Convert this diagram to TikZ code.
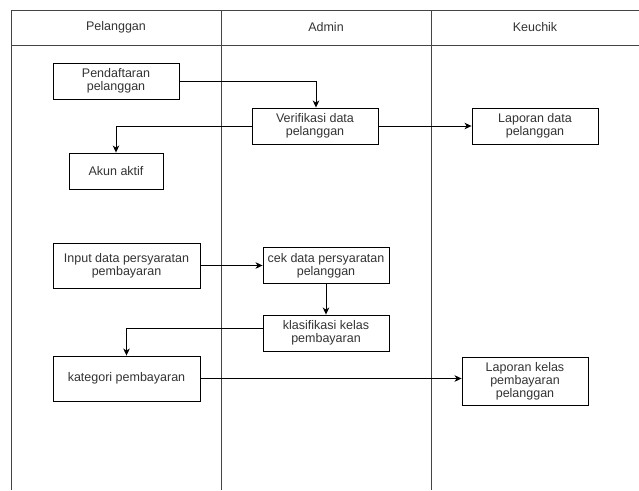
\documentclass[tikz,border=0pt]{standalone}
\usepackage{fontspec}
\setmainfont{Liberation Sans}
\usetikzlibrary{arrows.meta}
\definecolor{txt}{HTML}{333333}
\definecolor{lane}{HTML}{444444}
\begin{document}
\begin{tikzpicture}[x=1pt,y=-1pt,
  every node/.style={font=\fontsize{12.5}{13}\selectfont, text=txt},
  box/.style={draw=black, line width=0.9pt, align=center, inner sep=1pt, minimum width=126pt, minimum height=36pt},
  lanehead/.style={align=center},
  laneline/.style={draw=lane, line width=0.9pt},
  flow/.style={draw=black, line width=0.9pt, -{Stealth[length=7pt,width=6.5pt,inset=2pt]}}]
\useasboundingbox (0,0) rectangle (639,490);
% swimlanes
\draw[laneline] (639,10) -- (11,10) -- (11,490);
\draw[laneline] (11,45) -- (639,45);
\draw[laneline] (221,10) -- (221,490);
\draw[laneline] (431,10) -- (431,490);
\node[lanehead] (h1) at (116,27.5) {Pelanggan};
\node[lanehead] (h2) at (326,27.5) {Admin};
\node[lanehead] (h3) at (535,27.5) {Keuchik};
% boxes
\node[box] (pend) at (116,81) {Pendaftaran\\pelanggan};
\node[box] (verif) at (315,126) {Verifikasi data\\pelanggan};
\node[box] (lapd) at (535,126) {Laporan data\\pelanggan};
\node[box, minimum width=94pt] (akun) at (116,171) {Akun aktif};
\node[box, minimum width=147pt, minimum height=45pt] (input) at (126.5,265.5) {Input data persyaratan\\pembayaran};
\node[box] (cek) at (326,265.5) {cek data persyaratan\\pelanggan};
\node[box] (klas) at (326,333) {klasifikasi kelas\\pembayaran};
\node[box, minimum width=147pt, minimum height=45pt] (kat) at (126.5,378.5) {kategori pembayaran};
\node[box, minimum height=48pt] (lapk) at (525,381) {Laporan kelas\\pembayaran\\pelanggan};
% connectors
\draw[flow] (pend.east) -| ([xshift=1pt]verif.north);
\draw[flow] (verif.west) -| (akun.north);
\draw[flow] (verif.east) -- (lapd.west);
\draw[flow] (input.east) -- (input.east -| cek.west);
\draw[flow] (cek.south) -- (klas.north);
\draw[flow] ([yshift=5pt]klas.west) -| (kat.north);
\draw[flow] (kat.east) -- (kat.east -| lapk.west);
\end{tikzpicture}
\end{document}
